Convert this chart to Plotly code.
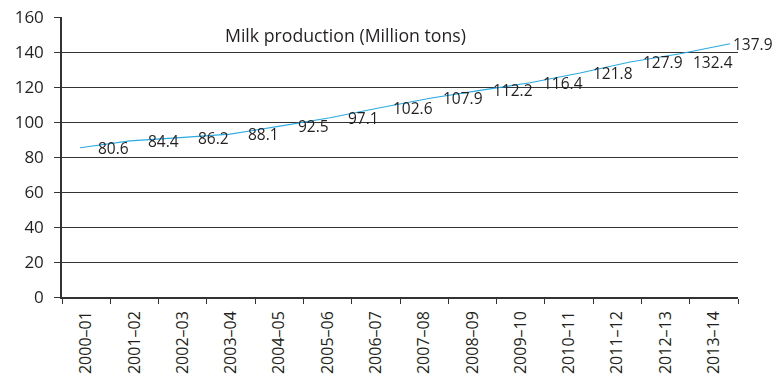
import plotly.graph_objects as go

years = ["2000–01", "2001–02", "2002–03", "2003–04", "2004–05", "2005–06", "2006–07",
         "2007–08", "2008–09", "2009–10", "2010–11", "2011–12", "2012–13", "2013–14"]
production = [80.6, 84.4, 86.2, 88.1, 92.5, 97.1, 102.6, 107.9, 112.2, 116.4,
              121.8, 127.9, 132.4, 137.9]
y_ticks = [0, 20, 40, 60, 80, 100, 120, 140, 160]
title_text = "Milk production (Million tons)"

FONT = "Open Sans"
TXT = "#231f20"
GRID = "#333333"
LINE = "#29abe2"

fig = go.Figure()

# category frame (invisible) on primary axes
fig.add_trace(go.Scatter(x=years, y=production, mode="markers", opacity=0,
                         showlegend=False, hoverinfo="skip", xaxis="x", yaxis="y"))

# the plotted series (drawn slightly offset, as in the source image)
idx = list(range(len(years)))
fig.add_trace(go.Scatter(x=idx, y=production, mode="lines",
                         line=dict(color=LINE, width=1.1),
                         showlegend=False, xaxis="x2", yaxis="y2"))

annotations = []
n = len(production)
for i, v in enumerate(production):
    xs, ys = 33, 0
    if i == n - 2:
        ys = -8
    if i == n - 1:
        xs = 23
    annotations.append(dict(x=i, y=v, xref="x2", yref="y2", text=f"{v:.1f}",
                            showarrow=False, xshift=xs, yshift=ys,
                            font=dict(family=FONT, size=15.5, color=TXT)))

annotations.append(dict(x=0.2377, y=0.936, xref="paper", yref="paper", text=title_text,
                        showarrow=False, xanchor="left", yanchor="middle",
                        font=dict(family=FONT, size=17.7, color=TXT)))

fig.update_layout(
    width=781, height=383,
    margin=dict(l=62, r=43, t=17, b=86),
    paper_bgcolor="white", plot_bgcolor="white",
    font=dict(family=FONT, size=17, color=TXT),
    showlegend=False,
    annotations=annotations,
    xaxis=dict(type="category", categoryorder="array", categoryarray=years,
               range=[-0.5, len(years) - 0.5], tickson="boundaries",
               ticks="outside", ticklen=5, tickcolor=GRID, tickwidth=1.3,
               tickangle=-90, showline=True, linecolor=GRID, linewidth=1.5,
               showgrid=False, zeroline=False, ticklabelstandoff=6,
               automargin=False,
               tickfont=dict(family=FONT, size=16, color=TXT)),
    yaxis=dict(range=[0, 160], tickvals=y_ticks, showgrid=True, gridcolor=GRID,
               gridwidth=1.3, ticks="outside", ticklen=6, tickcolor=GRID, tickwidth=1.3,
               showline=True, linecolor=GRID, linewidth=1.5, zeroline=False,
               ticklabelstandoff=7, automargin=False,
               tickfont=dict(family=FONT, size=17, color=TXT)),
    xaxis2=dict(overlaying="x", anchor="y2", range=[-0.36, 13.16], visible=False),
    yaxis2=dict(overlaying="y", anchor="x2", range=[-1.64, 152.65], visible=False),
)

fig.write_html("out.html")
